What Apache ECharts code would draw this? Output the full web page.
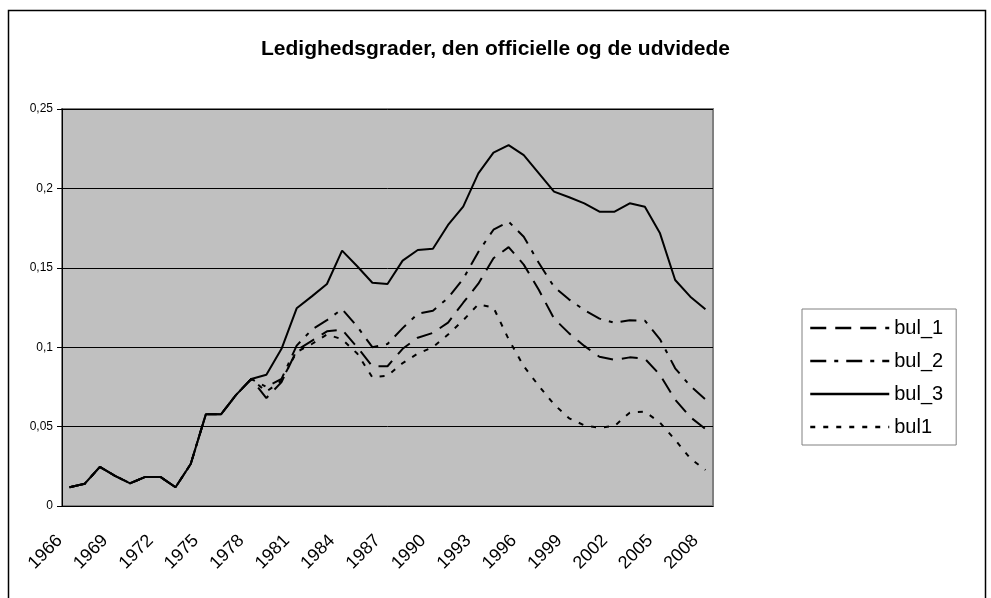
<!DOCTYPE html>
<html>
<head>
<meta charset="utf-8">
<title>Ledighedsgrader</title>
<script src="https://cdn.jsdelivr.net/npm/echarts@6/dist/echarts.min.js"></script>
<style>
  html, body { margin: 0; padding: 0; background: #fff; }
  #main { width: 991px; height: 598px; }
</style>
</head>
<body>
<div id="main"></div>
<script>
var years = [];
for (var y = 1966; y <= 2008; y++) years.push(String(y));

// 1966-1978: alle serier er ens
var common = [0.0118, 0.014, 0.0246, 0.019, 0.0143, 0.0183, 0.0183, 0.0118, 0.0264, 0.0577, 0.0577, 0.070, 0.080];

var bul_1_rest = [0.068, 0.078, 0.098, 0.104, 0.110, 0.111, 0.100, 0.088, 0.088, 0.099,
    0.106, 0.109, 0.1155, 0.128, 0.140, 0.156, 0.163, 0.152, 0.136, 0.118,
    0.1087, 0.1008, 0.094, 0.092, 0.0936, 0.0928, 0.0825, 0.067, 0.056, 0.0485];
var bul_2_rest = [0.075, 0.080, 0.101, 0.111, 0.117, 0.124, 0.113, 0.100, 0.102, 0.112,
    0.121, 0.123, 0.131, 0.143, 0.160, 0.174, 0.179, 0.1696, 0.153, 0.138,
    0.130, 0.1234, 0.118, 0.1154, 0.117, 0.1167, 0.105, 0.0867, 0.0756, 0.0672];
var bul_3_rest = [0.0827, 0.099, 0.1245, 0.132, 0.1398, 0.1608, 0.151, 0.1406, 0.1398, 0.1545,
    0.1612, 0.162, 0.177, 0.1885, 0.2095, 0.2225, 0.2273, 0.221, 0.2095, 0.198,
    0.1944, 0.1906, 0.1853, 0.1853, 0.1906, 0.1885, 0.1717, 0.1423, 0.1318, 0.1239];
var bul1_rest = [0.072, 0.079, 0.097, 0.102, 0.108, 0.105, 0.096, 0.081, 0.082, 0.090,
    0.096, 0.100, 0.108, 0.117, 0.127, 0.125, 0.105, 0.088, 0.0756, 0.064,
    0.0552, 0.0508, 0.0493, 0.0504, 0.0588, 0.0594, 0.0525, 0.0416, 0.030, 0.0227];

var bul_1 = common.concat(bul_1_rest);
var bul_2 = common.concat(bul_2_rest);
var bul_3 = common.concat(bul_3_rest);
var bul1 = common.concat(bul1_rest);

var font = 'Liberation Sans, Arial, sans-serif';

var myChart = echarts.init(document.getElementById('main'));

function lineSeries(name, data, dash) {
    return {
        name: name,
        type: 'line',
        data: data,
        symbol: 'none',
        color: '#000',
        animation: false,
        lineStyle: { color: '#000', width: 2, type: dash }
    };
}

var option = {
    backgroundColor: '#fff',
    title: {
        text: 'Ledighedsgrader, den officielle og de udvidede',
        left: 'center',
        top: 34,
        textStyle: { fontFamily: font, fontSize: 21, fontWeight: 'bold', color: '#000' }
    },
    graphic: [{
        type: 'rect',
        shape: { x: 8.5, y: 10.5, width: 977, height: 600 },
        style: { fill: 'none', stroke: '#000', lineWidth: 1.5 },
        silent: true
    }],
    legend: {
        orient: 'vertical',
        left: 802,
        top: 309,
        itemWidth: 79,
        itemHeight: 14,
        itemGap: 13,
        padding: [9, 13, 8, 7],
        borderColor: '#808080',
        borderWidth: 1,
        backgroundColor: '#fff',
        itemStyle: { opacity: 0 },
        lineStyle: { width: 2.5 },
        textStyle: { fontFamily: font, fontSize: 20, color: '#000' },
        data: ['bul_1', 'bul_2', 'bul_3', 'bul1']
    },
    grid: {
        left: 62,
        right: 278,
        top: 109,
        bottom: 92,
        show: true,
        backgroundColor: '#c0c0c0',
        borderColor: '#808080',
        borderWidth: 2
    },
    xAxis: {
        type: 'category',
        data: years,
        boundaryGap: true,
        axisLine: { lineStyle: { color: '#000', width: 1 } },
        axisTick: { interval: 0, length: 6, lineStyle: { color: '#000' } },
        axisLabel: {
            interval: 2,
            rotate: 45,
            margin: 22,
            padding: [0, 14, 0, 0],
            fontFamily: font,
            fontSize: 18,
            color: '#000'
        }
    },
    yAxis: {
        type: 'value',
        min: 0,
        max: 0.25,
        interval: 0.05,
        axisLine: { show: true, lineStyle: { color: '#000', width: 1 } },
        axisTick: { show: true, length: 5, lineStyle: { color: '#000' } },
        splitLine: { lineStyle: { color: '#000', width: 1 } },
        axisLabel: {
            margin: 9,
            fontFamily: font,
            fontSize: 12,
            color: '#000',
            formatter: function (v) {
                return String(+v.toFixed(2)).replace('.', ',');
            }
        }
    },
    series: [
        lineSeries('bul_1', bul_1, [16, 9]),
        lineSeries('bul_2', bul_2, [16, 8, 4, 8]),
        lineSeries('bul_3', bul_3, 'solid'),
        lineSeries('bul1', bul1, [5, 8])
    ]
};

myChart.setOption(option);
</script>
</body>
</html>
